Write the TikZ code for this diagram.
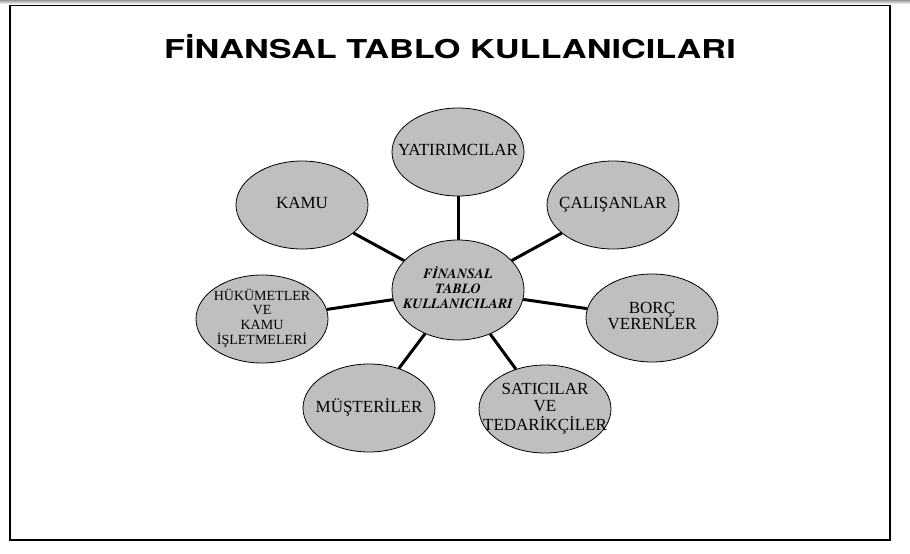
\documentclass[tikz,border=0pt]{standalone}
\usepackage{fontspec}
\setmainfont{Liberation Serif}
\newfontfamily\titlefont{texgyreheros-bold.otf}
\newfontfamily\hubfont{texgyretermes-bolditalic.otf}
\usetikzlibrary{shapes.geometric}
\begin{document}
\begin{tikzpicture}[x=1pt,y=-1pt]
        \tikzstyle{every node}=[ellipse, fill=lightgray, draw=black, line width=0.8pt, inner sep=0pt, minimum width=132pt, minimum height=88pt, font=\fontsize{17}{16.5}\selectfont, text=black]
        \tikzstyle{edge}=[black, line width=3pt]

        \useasboundingbox (0,0) rectangle (910,554);
        \shade[top color=gray!80, bottom color=white] (0,0) rectangle (910,4);
        \draw[line width=1.5pt] (10,5.5) rectangle (890,540);

        \node[rectangle, draw=none, fill=none, minimum size=0pt, anchor=base, font=\titlefont\fontsize{26}{26}\selectfont] (title) at (450,58) {\scalebox{1.32}[1]{FİNANSAL TABLO KULLANICILARI}};

        \node[minimum height=100pt, font=\hubfont\fontsize{14}{15}\selectfont] (fk) at (458,290) {\makebox[0pt]{\begin{tabular}{@{}c@{}} FİNANSAL \\ TABLO \\ KULLANICILARI \end{tabular}}};

        \node (yat) at (458,152) {\makebox[0pt]{\begin{tabular}{@{}c@{}} YATIRIMCILAR \end{tabular}}};
        \node (kamu) at (302,205) {\makebox[0pt]{\begin{tabular}{@{}c@{}} KAMU \end{tabular}}};
        \node (cal) at (613,205) {\makebox[0pt]{\begin{tabular}{@{}c@{}} ÇALIŞANLAR \end{tabular}}};
        \node[font=\fontsize{14}{14.5}\selectfont] (huk) at (262,319) {\makebox[0pt]{\begin{tabular}{@{}c@{}} HÜKÜMETLER \\ VE \\ KAMU \\ İŞLETMELERİ \end{tabular}}};
        \node (borc) at (652,318) {\makebox[0pt]{\raisebox{-2pt}{\begin{tabular}{@{}c@{}} BORÇ \\ VERENLER \end{tabular}}}};
        \node (mus) at (369,408) {\makebox[0pt]{\begin{tabular}{@{}c@{}} MÜŞTERİLER \end{tabular}}};
        \node (sat) at (545,409) {\makebox[0pt]{\begin{tabular}{@{}c@{}} SATICILAR \\ VE \\ TEDARİKÇİLER \end{tabular}}};

        \draw[edge] (fk) -- (yat);
        \draw[edge] (fk) -- (kamu);
        \draw[edge] (fk) -- (cal);
        \draw[edge] (fk) -- (huk);
        \draw[edge] (fk) -- (borc);
        \draw[edge] (fk) -- (mus);
        \draw[edge] (fk) -- (sat);
    \end{tikzpicture}
\end{document}
